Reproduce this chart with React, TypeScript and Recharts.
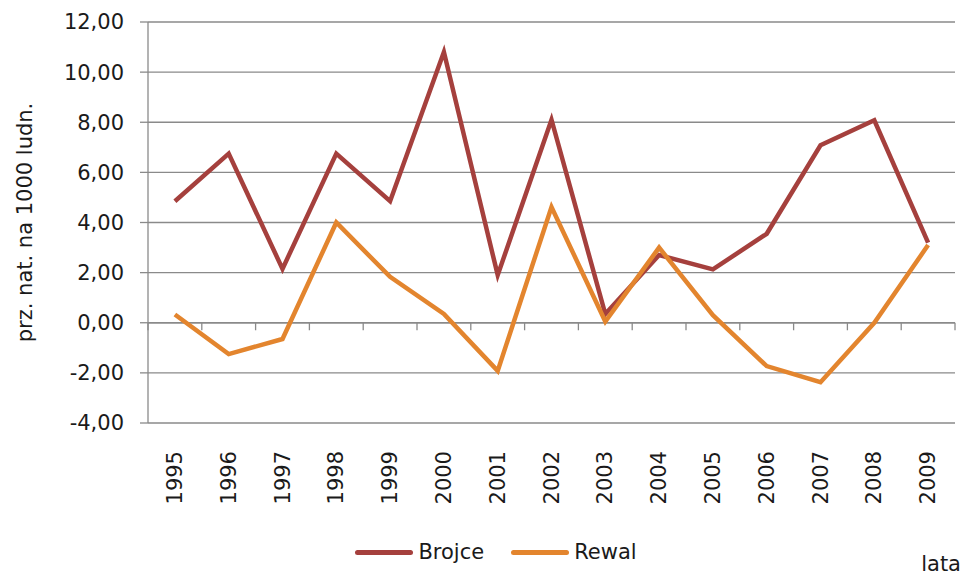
import React from 'react';
import { LineChart, Line, XAxis, YAxis, CartesianGrid, ReferenceLine, Legend, Label } from 'recharts';

const years = ['1995','1996','1997','1998','1999','2000','2001','2002','2003','2004','2005','2006','2007','2008','2009'];
const brojce = [4.85, 6.75, 2.15, 6.75, 4.85, 10.8, 1.9, 8.1, 0.35, 2.7, 2.13, 3.55, 7.08, 8.08, 3.2];
const rewal = [0.33, -1.25, -0.65, 4.0, 1.83, 0.35, -1.92, 4.62, 0.05, 3.0, 0.3, -1.73, -2.37, 0.0, 3.1];
const yTicks = [-4, -2, 0, 2, 4, 6, 8, 10, 12];

const data = years.map((y, i) => ({ idx: i, year: y, Brojce: brojce[i], Rewal: rewal[i] }));
const boundaries = Array.from({ length: years.length + 1 }, (_, i) => i - 0.5);

const FONT = '"DejaVu Sans", sans-serif';
const GRAY = '#8a8a8a';
const C_BROJCE = '#A5403D';
const C_REWAL = '#E3852E';

const fmt = (v: number) => v.toFixed(2).replace('.', ',');

const YearTick = (props: any) => {
  const { x, y, payload } = props;
  const ty = y + 28;
  return (
    <text x={x} y={ty} transform={`rotate(-90, ${x}, ${ty})`} textAnchor="end" dominantBaseline="central"
      fontFamily={FONT} fontSize={21} fill="#1a1a1a">
      {years[payload.value]}
    </text>
  );
};

const LegendContent = () => (
  <div style={{ height: 30, display: 'flex', justifyContent: 'center', alignItems: 'center', fontFamily: FONT, fontSize: 21, color: '#1a1a1a', paddingLeft: 28 }}>
    {[['Brojce', C_BROJCE], ['Rewal', C_REWAL]].map(([name, c], i) => (
      <div key={name} style={{ display: 'flex', alignItems: 'center', marginLeft: i ? 27 : 0 }}>
        <div style={{ width: 58, height: 5, borderRadius: 3, background: c, marginRight: 5 }} />
        <span>{name}</span>
      </div>
    ))}
  </div>
);

export default function App() {
  return (
    <div style={{ position: 'absolute', left: 0, top: 0, background: '#fff' }}>
      <LineChart width={964} height={578} data={data} margin={{ top: 22, right: 9, left: 0, bottom: 0 }}>
        <CartesianGrid vertical={false} stroke={GRAY} strokeWidth={1.3} />
        <XAxis dataKey="idx" type="number" domain={[-0.5, years.length - 0.5]} ticks={data.map(d => d.idx)}
          allowDataOverflow axisLine={false} tickLine={false} tickSize={0} tickMargin={0} height={125} tick={<YearTick />}
          interval={0}>
          <Label content={(p: any) => {
            const vb = p.viewBox;
            return (
              <text x={vb.x + vb.width + 6} y={vb.y + vb.height + 16} textAnchor="end" dominantBaseline="central"
                fontFamily={FONT} fontSize={21} fill="#1a1a1a">lata</text>
            );
          }} />
        </XAxis>
        <YAxis domain={[-4, 12]} ticks={yTicks} tickFormatter={fmt} width={148} axisLine={{ stroke: GRAY, strokeWidth: 1.3 }}
          tickLine={{ stroke: GRAY, strokeWidth: 1.3 }} tickSize={8} tickMargin={16}
          tick={{ fontFamily: FONT, fontSize: 21, fill: '#1a1a1a' }} interval={0}>
          <Label content={(p: any) => {
            const vb = p.viewBox;
            const cx = vb.x + 25;
            const cy = vb.y + vb.height / 2;
            return (
              <text x={cx} y={cy} transform={`rotate(-90, ${cx}, ${cy})`} textAnchor="middle" dominantBaseline="central"
                fontFamily={FONT} fontSize={21} fill="#1a1a1a">prz. nat. na 1000 ludn.</text>
            );
          }} />
        </YAxis>
        <ReferenceLine y={0} stroke={GRAY} strokeWidth={1.3} />
        {boundaries.map(b => (
          <ReferenceLine key={b} segment={[{ x: b, y: 0 }, { x: b, y: -0.3 }]} stroke={GRAY} strokeWidth={1.3} />
        ))}
        <Line type="linear" dataKey="Brojce" stroke={C_BROJCE} strokeWidth={4.5} dot={false} isAnimationActive={false} />
        <Line type="linear" dataKey="Rewal" stroke={C_REWAL} strokeWidth={4.5} dot={false} isAnimationActive={false} />
        <Legend content={<LegendContent />} wrapperStyle={{ top: 537, bottom: 'auto', left: 0, width: 964, height: 30 }} />
      </LineChart>
    </div>
  );
}
